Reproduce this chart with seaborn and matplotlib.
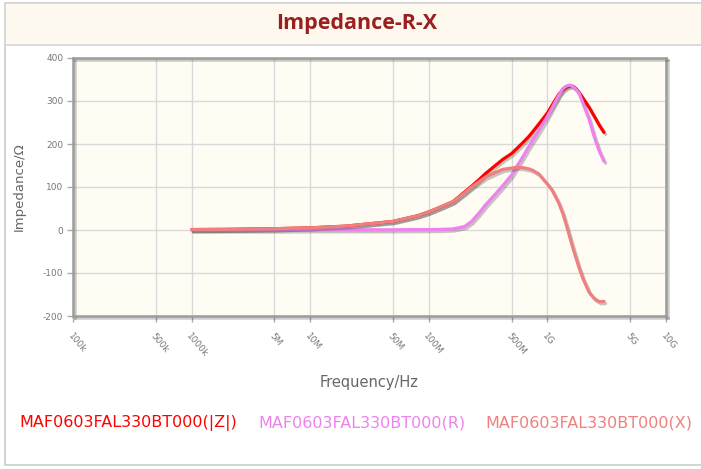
#! /usr/bin/env python3
"""Impedance-R-X curves for MAF0603FAL330BT000 (|Z|, R, X vs frequency)."""

import matplotlib
matplotlib.use("Agg")
import matplotlib.pyplot as plt
import matplotlib.patheffects as pe
from matplotlib.patches import Rectangle
from matplotlib.lines import Line2D
import seaborn as sns
import pandas

# frequencies in Hz
freq = [1e6, 2e6, 5e6, 1e7, 2e7, 5e7, 8e7, 1e8, 1.3e8, 1.6e8, 2e8, 2.3e8,
        2.7e8, 3e8, 3.6e8, 4.2e8, 5e8, 5.5e8, 6.2e8, 7e8, 7.5e8, 8.5e8,
        1e9, 1.1e9, 1.25e9, 1.35e9, 1.45e9, 1.55e9, 1.65e9, 1.75e9, 1.85e9,
        2e9, 2.25e9, 2.5e9, 2.75e9, 3e9]
z_abs = [1, 1.5, 3, 5, 9, 20, 33, 42, 55, 66, 88, 102,
         119, 131, 149, 164, 178, 189, 203, 218, 228, 247,
         272, 291, 316, 326, 332, 335, 334, 328, 320,
         306, 285, 263, 243, 227]
r_val = [0, 0, 0, 0.5, 0.5, 0.5, 1, 1, 1.5, 2.5, 8, 20,
         42, 58, 82, 103, 128, 147, 170, 195, 208, 232,
         264, 285, 314, 329, 335, 337, 333, 326, 318,
         294, 257, 214, 182, 160]
x_val = [1, 1.5, 3, 5, 9, 20, 33, 42, 55, 66, 86, 100,
         114, 123, 133, 141, 144, 146, 145, 142, 139, 130,
         107, 92, 62, 38, 10, -18, -44, -67, -88,
         -114, -145, -160, -167, -166]

series = ["MAF0603FAL330BT000(|Z|)", "MAF0603FAL330BT000(R)", "MAF0603FAL330BT000(X)"]
colors = ["#ff0000", "#ee82ee", "#f08080"]

tick_pos = [1e5, 5e5, 1e6, 5e6, 1e7, 5e7, 1e8, 5e8, 1e9, 5e9, 1e10]
tick_lab = ["100k", "500k", "1000k", "5M", "10M", "50M", "100M", "500M", "1G", "5G", "10G"]


def main():
    df = pandas.concat([
        pandas.DataFrame({"freq": freq, "val": vals, "series": name})
        for name, vals in zip(series, [z_abs, r_val, x_val])
    ])

    sns.set_style("white")
    plt.rcParams["font.family"] = ["DejaVu Sans"]
    plt.rcParams["axes.unicode_minus"] = False

    fig = plt.figure(figsize=(7.01, 4.69), dpi=100)

    # outer panel, title band
    fig.patches.append(Rectangle((5 / 701, 4 / 469), 700 / 701, 462 / 469,
                                 transform=fig.transFigure, facecolor="white",
                                 edgecolor="#cccccc", lw=1.2, zorder=-2))
    fig.patches.append(Rectangle((5 / 701, 1 - 45 / 469), 700 / 701, 42 / 469,
                                 transform=fig.transFigure, facecolor="#fef9ee",
                                 edgecolor="#d6d6d6", lw=1.2, zorder=-1))
    fig.text(357 / 701, 1 - 23 / 469, "Impedance-R-X", ha="center", va="center",
             fontsize=15.5, fontweight="bold", color="#9b1f1f", family="Open Sans")

    ax = fig.add_axes([73 / 701, 1 - 316 / 469, (666 - 73) / 701, (316 - 58) / 469])
    ax.set_zorder(2)
    ax.set_facecolor("#fffcf3")

    sns.lineplot(data=df, x="freq", y="val", hue="series", palette=colors,
                 hue_order=series, linewidth=2.3, legend=False, ax=ax, zorder=3)
    shadow = [pe.SimpleLineShadow(offset=(1.2, -1.5), shadow_color="#444444", alpha=0.3),
              pe.Normal()]
    for line in ax.get_lines():
        line.set_path_effects(shadow)
        line.set_solid_capstyle("round")
        line.set_solid_joinstyle("round")

    ax.set_xscale("log")
    ax.set_xlim(1e5, 1e10)
    ax.set_ylim(-200, 400)
    ax.set_xticks(tick_pos)
    ax.set_xticklabels(tick_lab, rotation=-50, ha="left", va="top",
                       rotation_mode="anchor")
    ax.minorticks_off()
    ax.set_yticks(range(-200, 401, 100))
    ax.tick_params(axis="both", labelsize=6.5, labelcolor="#777777", color="#aaaaaa",
                   length=4, width=1, direction="out", left=True, bottom=True, pad=3)
    ax.tick_params(axis="x", pad=7)
    ax.grid(True, color="#d9d9d9", lw=1)
    ax.set_axisbelow(True)
    for s in ax.spines.values():
        s.set_color("#9c9c9c")
        s.set_linewidth(1.8)
        s.set_path_effects([pe.SimpleLineShadow(offset=(1.5, -1.5), alpha=0.2), pe.Normal()])

    ax.set_xlabel("Frequency/Hz", fontsize=10.5, color="#666666", labelpad=12)
    ax.set_ylabel("Impedance/Ω", fontsize=9.5, color="#666666", labelpad=12)

    handles = [Line2D([], [], color=c, lw=0) for c in colors]
    leg = fig.legend(handles, series, loc="upper left", bbox_to_anchor=(5 / 701, 1 - 401 / 469),
                     ncol=3, frameon=False, handlelength=0, handletextpad=0,
                     columnspacing=1.3, fontsize=11.5)
    for txt, c in zip(leg.get_texts(), colors):
        txt.set_color(c)

    plt.savefig("out.png", dpi=100)


if __name__ == "__main__":
    main()
